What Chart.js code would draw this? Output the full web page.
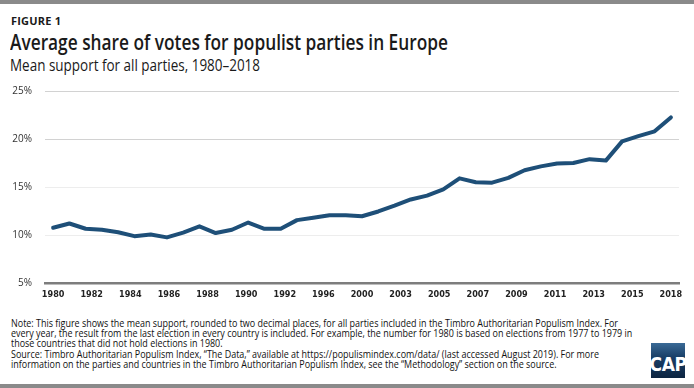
<!DOCTYPE html>
<html>
<head>
<meta charset="utf-8">
<script src="https://cdn.jsdelivr.net/npm/chart.js@4/dist/chart.umd.min.js"></script>
<style>
  html, body { margin: 0; padding: 0; background: #fff; }
  #page { position: relative; width: 694px; height: 388px; overflow: hidden; color: #1a1a1a; font-family: "Open Sans", sans-serif; }
  .rule { position: absolute; left: 0; width: 694px; background: #8a8a8a; }
  .fit { position: absolute; white-space: nowrap; transform-origin: 0 0; }
  #fig   { left: 11px; top: 13px; font: 700 11px "Open Sans", sans-serif; letter-spacing: 0.2px; }
  #title { left: 10px; top: 28px; font: 600 21px "Open Sans", sans-serif; }
  #sub   { left: 10px; top: 54px; font: 400 16px "Open Sans", sans-serif; }
  #chartBox { position: absolute; left: 0; top: 72px; width: 694px; height: 238px; }
  #note { left: 11px; top: 318px; font: 11px "Open Sans", sans-serif; line-height: 10.2px; color: #111; }
  #logo { position: absolute; left: 651px; top: 343px; width: 34px; height: 35px;
          background: linear-gradient(180deg, #3a6a96 0%, #1a4068 40%, #0c2440 100%);
          color: #fff; font: 700 19px "DejaVu Sans Condensed", sans-serif;
          display: flex; align-items: flex-end; justify-content: center; line-height: 27px; letter-spacing: -0.5px; }
</style>
</head>
<body>
<div id="page">
  <div class="rule" style="top:0;height:4px"></div>
  <div id="fig" class="fit">FIGURE 1</div>
  <div id="title" class="fit" data-w="438">Average share of votes for populist parties in Europe</div>
  <div id="sub" class="fit" data-w="250">Mean support for all parties, 1980–2018</div>
  <div id="chartBox"><canvas id="chart"></canvas></div>
  <div id="note" class="fit"><span id="noteFirst">Note: This figure shows the mean support, rounded to two decimal places, for all parties included in the Timbro Authoritarian Populism Index. For</span><br>every year, the result from the last election in every country is included. For example, the number for 1980 is based on elections from 1977 to 1979 in<br>those countries that did not hold elections in 1980.<br>Source: Timbro Authoritarian Populism Index, “The Data,” available at https://populismindex.com/data/ (last accessed August 2019). For more<br>information on the parties and countries in the Timbro Authoritarian Populism Index, see the “Methodology” section on the source.</div>
  <div id="logo">CAP</div>
  <div class="rule" style="top:384px;height:4px"></div>
</div>
<script>
// mean support (%) for all populist parties, one value per year
const YEARS = [1980, 1981, 1982, 1983, 1984, 1985, 1986, 1987, 1988, 1989,
               1990, 1991, 1992, 1993, 1994, 1995, 1996, 1997, 1998, 1999,
               2000, 2001, 2002, 2003, 2004, 2005, 2006, 2007, 2008, 2009,
               2010, 2011, 2012, 2013, 2014, 2015, 2016, 2017, 2018]
const SUPPORT = [10.75, 11.2, 10.65, 10.55, 10.28, 9.88, 10.05, 9.75, 10.25, 10.9,
                 10.2, 10.55, 11.3, 10.65, 10.65, 11.55, 11.8, 12.05, 12.05, 11.95,
                 12.45, 13.05, 13.7, 14.1, 14.75, 15.9, 15.5, 15.45, 15.95, 16.75,
                 17.15, 17.45, 17.5, 17.9, 17.75, 19.75, 20.3, 20.8, 22.25]

// the source spaces these labels evenly along the axis
const X_TICK_LABELS = ['1980', '1982', '1984', '1986', '1988', '1990', '1992', '1996',
                       '2000', '2003', '2005', '2007', '2009', '2011', '2013', '2015', '2018']
const Y_TICKS = [5, 10, 15, 20, 25]

const first = YEARS[0], last = YEARS[YEARS.length - 1]

new Chart(document.getElementById('chart'), {
  type: 'line',
  data: {
    datasets: [{
      data: YEARS.map((y, i) => ({ x: y, y: SUPPORT[i] })),
      borderColor: '#1e4f78',
      borderWidth: 4,
      borderJoinStyle: 'round',
      borderCapStyle: 'round',
      pointRadius: 0,
      tension: 0,
    }],
  },
  options: {
    responsive: true, maintainAspectRatio: false, animation: false,
    layout: { padding: { top: 0, right: 15, left: 0, bottom: 0 } },
    plugins: { legend: { display: false }, tooltip: { enabled: false } },
    scales: {
      x: {
        type: 'linear', min: first - 0.5, max: last + 0.5,
        afterBuildTicks: a => {
          const n = X_TICK_LABELS.length - 1
          a.ticks = X_TICK_LABELS.map((l, i) => ({ value: first + i * (last - first) / n }))
        },
        afterFit: s => { s.height = 27 },
        ticks: {
          callback: (v, i) => X_TICK_LABELS[i],
          autoSkip: false, maxRotation: 0, padding: 6, color: '#222',
          font: { family: '"DejaVu Sans Condensed", sans-serif', size: 9, weight: 'bold' },
        },
        grid: { display: false, drawTicks: false },
        border: { color: '#7d7d7d', width: 2.5 },
      },
      y: {
        min: 5, max: 25,
        afterBuildTicks: a => { a.ticks = Y_TICKS.map(v => ({ value: v })) },
        afterFit: s => { s.width = 45 },
        ticks: {
          callback: v => v + '%', padding: 13, color: '#333',
          font: { family: '"Open Sans", sans-serif', size: 10 },
        },
        grid: {
          drawTicks: false, lineWidth: 1,
          color: c => c.tick.value === 5 ? 'rgba(0,0,0,0)' : c.tick.value >= 20 ? '#d2d2d2' : '#ededed',
        },
        border: { display: false },
      },
    },
  },
})

// squeeze the text to the reference's narrower face
document.fonts.ready.then(() => {
  document.querySelectorAll('.fit[data-w]').forEach(el => {
    const w = el.getBoundingClientRect().width
    el.style.transform = `scaleX(${el.dataset.w / w})`
  })
  const note = document.getElementById('note')
  const w = document.getElementById('noteFirst').getBoundingClientRect().width
  note.style.transform = `scaleX(${607 / w})`
})
</script>
</body>
</html>
